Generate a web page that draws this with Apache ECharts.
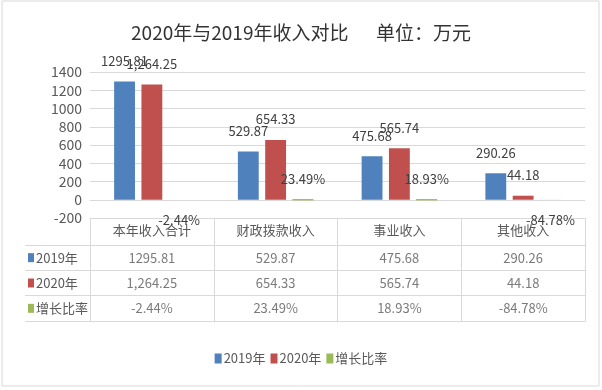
<!DOCTYPE html>
<html><head><meta charset="utf-8">
<script src="https://cdn.jsdelivr.net/npm/echarts@6/dist/echarts.min.js"></script>
<style>html,body{margin:0;padding:0;background:#fff}#c{width:602px;height:390px}</style>
</head><body><div id="c"></div>
<script>
const titleText = '2020年与2019年收入对比\u3000  单位：万元';
const categories = ['本年收入合计', '财政拨款收入', '事业收入', '其他收入'];
const seriesNames = ['2019年', '2020年', '增长比率'];
const values2019 = [1295.81, 529.87, 475.68, 290.26];
const values2020 = [1264.25, 654.33, 565.74, 44.18];
const growthPct = [-2.44, 23.49, 18.93, -84.78];
const yMin = -200, yMax = 1400, yStep = 200;

const colors = ['#4f81bd', '#c0504d', '#9bbb59'];
const narrow = "'Liberation Sans Narrow', 'Noto Sans CJK SC', sans-serif";
const cjk = "'Noto Sans CJK SC', sans-serif";
const grid = '#d9d9d9';

const fmt2019 = v => v.toFixed(2);
const fmt2020 = v => v.toLocaleString('en-US', {minimumFractionDigits: 2, maximumFractionDigits: 2});
const fmtPct = v => v.toFixed(2) + '%';

const rows = [values2019.map(fmt2019), values2020.map(fmt2020), growthPct.map(fmtPct)];
const tableData = [];
rows.forEach((r, ri) => r.forEach((t, ci) => tableData.push([ci, ri, t])));

const labelBase = {show: true, position: 'top', distance: 14, fontFamily: narrow, fontSize: 13, color: '#404040'};

const chart = echarts.init(document.getElementById('c'));
chart.setOption({
  backgroundColor: '#fff',
  animation: false,
  title: {text: titleText, left: 'center', top: 23, padding: 0,
    textStyle: {fontFamily: cjk, fontSize: 19, fontWeight: 'normal', color: '#333'}},
  legend: {data: seriesNames, bottom: 20, left: 'center', icon: 'rect', itemWidth: 7, itemHeight: 10, itemGap: 5,
    textStyle: {fontFamily: narrow, fontSize: 13, color: '#595959', padding: [0, 0, 0, -3]}},
  graphic: [{type: 'rect', shape: {x: 2, y: 1, width: 597, height: 385}, style: {fill: 'none', stroke: grid, lineWidth: 1}, silent: true}],
  grid: [
    {left: 90, right: 17, top: 72, bottom: 172},
    {left: 90, right: 17, top: 245, bottom: 69}
  ],
  xAxis: [
    {gridIndex: 0, type: 'category', data: categories,
      axisLine: {onZero: false, lineStyle: {color: grid}},
      axisTick: {show: true, interval: 0, length: 27, lineStyle: {color: grid}},
      axisLabel: {interval: 0, margin: 6, fontFamily: cjk, fontSize: 13, color: '#595959'}},
    {gridIndex: 1, type: 'category', data: categories,
      axisLine: {show: true, lineStyle: {color: grid}}, axisTick: {show: false}, axisLabel: {show: false},
      splitLine: {show: true, interval: 0, lineStyle: {color: grid}}}
  ],
  yAxis: [
    {gridIndex: 0, type: 'value', min: yMin, max: yMax, interval: yStep,
      axisLine: {show: false}, axisTick: {show: false},
      splitLine: {lineStyle: {color: grid}},
      axisLabel: {margin: 8, fontFamily: narrow, fontSize: 14, color: '#595959', formatter: v => String(v)}},
    {gridIndex: 1, type: 'category', inverse: true, data: seriesNames,
      axisLine: {show: true, lineStyle: {color: grid}},
      axisTick: {show: true, length: 65, lineStyle: {color: grid}},
      splitLine: {show: true, interval: 0, lineStyle: {color: grid}},
      axisLabel: {align: 'left', margin: 62, fontFamily: narrow, fontSize: 13, color: '#595959',
        formatter: (v, i) => '{m' + i + '|}{t|' + v + '}',
        rich: {
          m0: {backgroundColor: colors[0], width: 6, height: 9},
          m1: {backgroundColor: colors[1], width: 6, height: 9},
          m2: {backgroundColor: colors[2], width: 6, height: 9},
          t: {fontFamily: narrow, fontSize: 13, color: '#595959', padding: [0, 0, 0, 2]}
        }}},
    {gridIndex: 1, type: 'category', inverse: true, data: seriesNames, offset: 65,
      axisLine: {show: true, lineStyle: {color: grid}}, axisTick: {show: false}, axisLabel: {show: false}, splitLine: {show: false}}
  ],
  series: [
    {name: seriesNames[0], type: 'bar', data: values2019, itemStyle: {color: colors[0]},
      barCategoryGap: '39%', barGap: '31%',
      label: Object.assign({}, labelBase, {formatter: p => fmt2019(p.value)})},
    {name: seriesNames[1], type: 'bar', data: values2020, itemStyle: {color: colors[1]},
      barCategoryGap: '39%', barGap: '31%',
      label: Object.assign({}, labelBase, {formatter: p => fmt2020(p.value)})},
    {name: seriesNames[2], type: 'bar', itemStyle: {color: colors[2]},
      barCategoryGap: '39%', barGap: '31%',
      data: growthPct.map(p => ({value: p / 100,
        label: {position: p < 0 ? 'bottom' : 'top'},
        itemStyle: p > 0 ? {borderColor: colors[2], borderWidth: 1} : {borderWidth: 0}})),
      label: Object.assign({}, labelBase, {formatter: p => fmtPct(p.value * 100)})},
    {name: 'table', type: 'scatter', xAxisIndex: 1, yAxisIndex: 1, symbolSize: 0, silent: true,
      data: tableData,
      label: {show: true, position: 'inside', fontFamily: narrow, fontSize: 13, color: '#595959',
        formatter: p => p.value[2]}}
  ]
});
</script></body></html>
